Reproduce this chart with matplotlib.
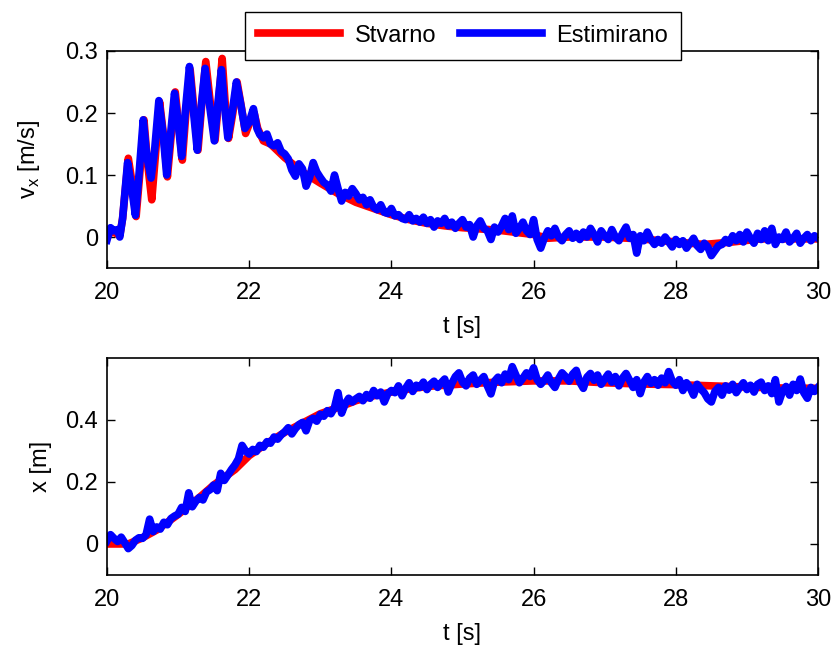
import numpy as np
import matplotlib
matplotlib.use('Agg')
import matplotlib.pyplot as plt

plt.rcParams['font.family'] = ['Liberation Sans', 'DejaVu Sans']
plt.rcParams['mathtext.fontset'] = 'custom'
plt.rcParams['mathtext.rm'] = 'Liberation Sans'

# ---- top panel: velocity, true (Stvarno) ----
t_v_true = [20.00, 20.10, 20.18, 20.22, 20.30, 20.35, 20.41, 20.46, 20.52, 20.57,
            20.63, 20.68, 20.74, 20.80, 20.85, 20.90, 20.96, 21.01, 21.06, 21.11,
            21.17, 21.22, 21.28, 21.33, 21.39, 21.45, 21.52, 21.57, 21.62, 21.66,
            21.71, 21.77, 21.83, 21.89, 21.95, 22.01, 22.07, 22.12, 22.20, 22.30,
            22.50, 22.75, 23.00, 23.25, 23.50, 23.75, 24.00, 24.25, 24.50, 24.75,
            25.00, 25.50, 26.00, 26.20, 26.50, 27.00, 27.50, 27.80, 28.00, 28.40,
            28.80, 29.20, 29.60, 30.00]
v_true = [0.005, 0.008, 0.002, 0.030, 0.127, 0.090, 0.033, 0.100, 0.189, 0.120,
          0.060, 0.130, 0.218, 0.160, 0.097, 0.160, 0.234, 0.180, 0.124, 0.200,
          0.270, 0.210, 0.140, 0.210, 0.283, 0.220, 0.156, 0.220, 0.288, 0.220,
          0.159, 0.200, 0.250, 0.210, 0.167, 0.185, 0.200, 0.175, 0.155, 0.150,
          0.128, 0.105, 0.087, 0.070, 0.056, 0.046, 0.036, 0.028, 0.022, 0.018,
          0.015, 0.011, 0.004, -0.002, 0.000, 0.000, -0.003, -0.006, -0.008, -0.012,
          -0.008, -0.003, -0.003, -0.003]

# ---- top panel: velocity, estimate (Estimirano) ----
t_v_est_osc = [20.00, 20.05, 20.10, 20.15, 20.18, 20.22, 20.29, 20.34, 20.40, 20.45,
               20.51, 20.56, 20.62, 20.67, 20.73, 20.79, 20.84, 20.89, 20.95, 21.00,
               21.05, 21.10, 21.16, 21.21, 21.27, 21.32, 21.38, 21.44, 21.51, 21.56,
               21.61, 21.65, 21.70, 21.76, 21.82, 21.88, 21.94, 22.00, 22.06, 22.11,
               22.15]
v_est_osc = [-0.005, 0.015, 0.010, 0.012, 0.000, 0.030, 0.120, 0.085, 0.035, 0.100,
             0.189, 0.130, 0.095, 0.140, 0.220, 0.165, 0.100, 0.160, 0.232, 0.185,
             0.130, 0.200, 0.275, 0.210, 0.140, 0.205, 0.272, 0.215, 0.155, 0.215,
             0.270, 0.215, 0.160, 0.200, 0.250, 0.215, 0.175, 0.185, 0.207, 0.175,
             0.165]
t_v_est_tail = np.round(np.arange(22.20, 30.001, 0.05), 2)
v_est_tail = [
    0.160, 0.166, 0.150, 0.147, 0.152, 0.138, 0.134, 0.126, 0.108, 0.098,
    0.118, 0.110, 0.082, 0.096, 0.120, 0.105, 0.096, 0.088, 0.084, 0.074,
    0.100, 0.078, 0.058, 0.072, 0.066, 0.078, 0.070, 0.060, 0.064, 0.052,
    0.060, 0.048, 0.044, 0.052, 0.040, 0.038, 0.046, 0.034, 0.036, 0.030,
    0.028, 0.036, 0.026, 0.030, 0.024, 0.032, 0.022, 0.028, 0.016, 0.026,
    0.022, 0.030, 0.018, 0.024, 0.014, 0.022, 0.028, 0.016, 0.020, 0.000,
    0.018, 0.026, 0.014, 0.010, -0.004, 0.016, 0.008, 0.018, 0.030, 0.012,
    0.034, 0.006, 0.014, 0.024, 0.010, 0.004, 0.028, -0.004, -0.018, -0.002,
    0.010, 0.002, 0.014, 0.000, -0.006, 0.004, 0.010, -0.002, 0.006, -0.004,
    0.008, 0.000, 0.014, 0.004, -0.008, 0.010, 0.002, -0.004, 0.012, 0.000,
    -0.006, 0.006, 0.016, -0.002, 0.004, -0.026, 0.002, -0.006, 0.008, -0.004,
    -0.012, -0.004, -0.010, 0.000, -0.008, -0.016, -0.004, -0.012, -0.006, -0.018,
    -0.010, -0.002, -0.014, -0.020, -0.010, -0.016, -0.030, -0.022, -0.014, -0.012,
    -0.004, -0.010, 0.002, -0.006, 0.004, -0.008, 0.008, -0.002, -0.010, 0.006,
    -0.004, 0.010, -0.006, 0.014, -0.012, 0.000, -0.004, 0.008, -0.008, -0.002,
    0.006, -0.010, -0.002, 0.004, -0.006, 0.002, -0.002]

# ---- bottom panel: position ----
t_x_true = [20.0, 20.3, 20.5, 20.7, 21.0, 21.3, 21.5, 21.8, 22.0, 22.25,
            22.5, 22.75, 23.0, 23.25, 23.5, 23.75, 24.0, 24.25, 24.5, 25.0,
            25.5, 26.0, 26.5, 27.0, 27.5, 28.0, 28.5, 29.0, 29.5, 30.0]
x_true = [0.000, 0.000, 0.020, 0.045, 0.095, 0.150, 0.190, 0.240, 0.285, 0.325,
          0.360, 0.390, 0.420, 0.440, 0.462, 0.478, 0.490, 0.500, 0.508, 0.516,
          0.522, 0.526, 0.526, 0.520, 0.516, 0.514, 0.510, 0.506, 0.503, 0.502]

t_x_est = np.round(np.arange(20.0, 30.001, 0.05), 2)
x_est = [
    0.010, 0.030, 0.018, 0.008, 0.022, 0.004, -0.015, -0.005, 0.012, 0.020,
    0.018, 0.030, 0.080, 0.040, 0.055, 0.048, 0.070, 0.062, 0.082, 0.090,
    0.096, 0.118, 0.105, 0.165, 0.120, 0.138, 0.150, 0.142, 0.168, 0.175,
    0.190, 0.172, 0.228, 0.205, 0.222, 0.240, 0.255, 0.275, 0.318, 0.300,
    0.290, 0.305, 0.298, 0.318, 0.312, 0.330, 0.325, 0.345, 0.338, 0.352,
    0.362, 0.375, 0.355, 0.372, 0.385, 0.392, 0.365, 0.398, 0.405, 0.396,
    0.418, 0.412, 0.430, 0.420, 0.440, 0.488, 0.422, 0.452, 0.470, 0.458,
    0.468, 0.476, 0.462, 0.482, 0.470, 0.495, 0.478, 0.490, 0.458, 0.485,
    0.495, 0.488, 0.510, 0.478, 0.502, 0.520, 0.492, 0.512, 0.505, 0.522,
    0.498, 0.515, 0.525, 0.505, 0.520, 0.532, 0.490, 0.518, 0.540, 0.552,
    0.522, 0.510, 0.535, 0.545, 0.515, 0.528, 0.540, 0.510, 0.484, 0.525,
    0.538, 0.520, 0.548, 0.530, 0.572, 0.545, 0.520, 0.535, 0.552, 0.540,
    0.568, 0.530, 0.515, 0.528, 0.545, 0.520, 0.505, 0.532, 0.552, 0.540,
    0.525, 0.548, 0.560, 0.522, 0.502, 0.538, 0.550, 0.528, 0.545, 0.515,
    0.532, 0.548, 0.522, 0.540, 0.510, 0.535, 0.550, 0.528, 0.505, 0.530,
    0.485, 0.522, 0.540, 0.518, 0.530, 0.512, 0.535, 0.520, 0.556, 0.525,
    0.512, 0.530, 0.495, 0.520, 0.505, 0.480, 0.515, 0.500, 0.488, 0.468,
    0.458, 0.492, 0.505, 0.480, 0.510, 0.496, 0.515, 0.488, 0.505, 0.520,
    0.498, 0.512, 0.490, 0.515, 0.522, 0.495, 0.510, 0.485, 0.530, 0.458,
    0.492, 0.508, 0.480, 0.515, 0.495, 0.532, 0.488, 0.470, 0.505, 0.492,
    0.505]

xticks = [20, 22, 24, 26, 28, 30]
v_yticks = [0, 0.1, 0.2, 0.3]
v_yticklabels = ['0', '0.1', '0.2', '0.3']
x_yticks = [0, 0.2, 0.4]
x_yticklabels = ['0', '0.2', '0.4']
legend_labels = ['Stvarno', 'Estimirano']

t_v_est = list(t_v_est_osc) + list(t_v_est_tail)
v_est = list(v_est_osc) + list(v_est_tail)

fs = 17
lw = 5.5
fig = plt.figure(figsize=(8.37, 6.48), dpi=100)
ax1 = fig.add_axes([0.1278, 0.5864, 0.8495, 0.3349])
ax2 = fig.add_axes([0.1278, 0.1127, 0.8495, 0.3349])

l1, = ax1.plot(t_v_true, v_true, color='#ff0000', lw=lw, solid_joinstyle='round')
l2, = ax1.plot(t_v_est, v_est, color='#0000ff', lw=lw, solid_joinstyle='round')
ax2.plot(t_x_true, x_true, color='#ff0000', lw=lw, solid_joinstyle='round')
ax2.plot(t_x_est, x_est, color='#0000ff', lw=lw, solid_joinstyle='round')

ax1.set_ylim(-0.05, 0.3)
ax1.set_yticks(v_yticks)
ax1.set_yticklabels(v_yticklabels)
ax1.set_ylabel(r'v$_{\mathrm{x}}$ [m/s]', fontsize=fs)
ax1.yaxis.set_label_coords(-0.092, 0.5)
ax2.set_ylim(-0.1, 0.6)
ax2.set_yticks(x_yticks)
ax2.set_yticklabels(x_yticklabels)
ax2.set_ylabel('x [m]', fontsize=fs)
ax2.yaxis.set_label_coords(-0.077, 0.5)

for ax in (ax1, ax2):
    ax.set_xlim(20, 30)
    ax.set_xticks(xticks)
    ax.set_xlabel('t [s]', fontsize=fs, labelpad=9)
    ax.tick_params(direction='in', length=6, width=1, top=True, right=True,
                   labelsize=fs)
    ax.tick_params(axis='x', pad=10)
    ax.tick_params(axis='y', pad=6.5)
    for s in ax.spines.values():
        s.set_linewidth(1.2)

leg = fig.legend([l1, l2], legend_labels, loc='center', ncol=2,
                 bbox_to_anchor=(0.553, 0.945), fontsize=fs, handlelength=3.5,
                 columnspacing=1.0, handletextpad=0.6, fancybox=False,
                 framealpha=1, edgecolor='black', borderpad=0.55)
leg.get_frame().set_linewidth(1.0)

fig.savefig('out.png', dpi=100)
